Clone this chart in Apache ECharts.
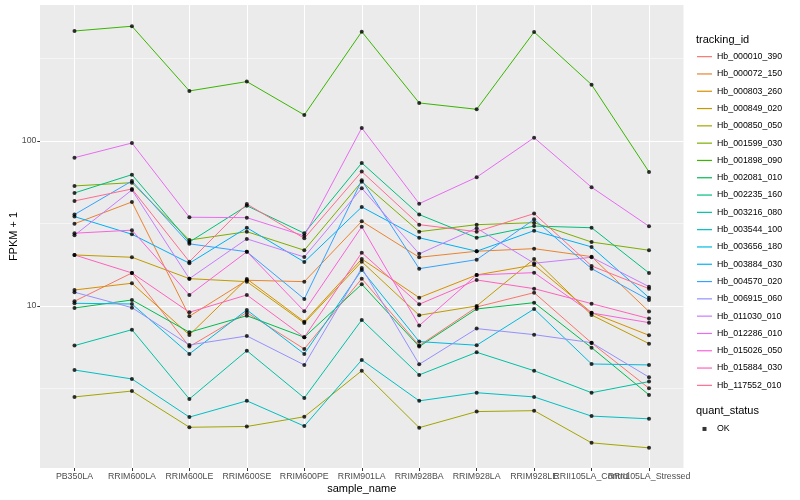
<!DOCTYPE html>
<html><head><meta charset="utf-8">
<script src="https://cdn.jsdelivr.net/npm/echarts@6/dist/echarts.min.js"></script>
<style>html,body{margin:0;padding:0;background:#fff}#c{width:800px;height:500px}</style>
</head><body><div id="c"></div>
<script>
const categories = ['PB350LA','RRIM600LA','RRIM600LE','RRIM600SE','RRIM600PE','RRIM901LA','RRIM928BA','RRIM928LA','RRIM928LE','RRII105LA_Control','RRII105LA_Stressed'];
const trackingIds = ['Hb_000010_390','Hb_000072_150','Hb_000803_260','Hb_000849_020','Hb_000850_050','Hb_001599_030','Hb_001898_090','Hb_002081_010','Hb_002235_160','Hb_003216_080','Hb_003544_100','Hb_003656_180','Hb_003884_030','Hb_004570_020','Hb_006915_060','Hb_011030_010','Hb_012286_010','Hb_015026_050','Hb_015884_030','Hb_117552_010'];
const lineColors = ['#F8766D','#EA8331','#D89000','#C09B00','#A3A500','#7CAE00','#39B600','#00BB4E','#00BF7D','#00C1A3','#00BFC4','#00BAE0','#00B0F6','#35A2FF','#9590FF','#C77CFF','#E76BF3','#FA62DB','#FF62BC','#FF6C91'];
const yMajorTicks = [10, 100];
const yMinorTicks = [3.1623, 31.623, 316.23];

const hb_000010_390 = [10.68, 15.85, 5.67, 9.11, 5.49, 14.64, 5.75, 9.86, 12.04, 5.97, 3.17];
const hb_000072_150 = [31.5, 42.7, 8.66, 14.31, 14.04, 32.6, 19.73, 21.46, 22.25, 19.9, 9.24];
const hb_000803_260 = [12.5, 13.73, 6.67, 14.58, 8.03, 19.27, 11.23, 15.41, 17.72, 9.11, 6.64];
const hb_000849_020 = [20.38, 19.73, 14.64, 14.04, 7.89, 18.55, 8.78, 10.0, 19.27, 8.82, 5.91];
const hb_000850_050 = [2.81, 3.05, 1.84, 1.86, 2.13, 4.05, 1.83, 2.29, 2.32, 1.48, 1.38];
const hb_001599_030 = [53.4, 55.9, 25.1, 28.2, 21.76, 56.7, 28.2, 31.1, 31.98, 24.4, 21.76];
const hb_001898_090 = [464, 496, 201, 229, 143.8, 459.6, 170, 155.6, 457.7, 219.4, 64.9];
const hb_002081_010 = [9.72, 10.87, 6.93, 8.73, 6.46, 13.54, 5.67, 9.59, 10.47, 5.59, 2.89];
const hb_002235_160 = [48.4, 62.5, 24.4, 40.5, 27.6, 73.6, 35.8, 25.9, 30.5, 29.8, 15.85];
const hb_003216_080 = [5.75, 7.18, 2.73, 5.36, 2.77, 8.23, 3.82, 5.24, 4.05, 2.98, 3.48];
const hb_003544_100 = [4.09, 3.61, 2.12, 2.66, 1.87, 4.71, 2.66, 2.98, 2.81, 2.15, 2.07];
const hb_003656_180 = [10.38, 10.28, 5.12, 9.46, 5.12, 16.53, 6.08, 5.78, 9.59, 4.45, 4.39];
const hb_003884_030 = [34.8, 27.2, 18.15, 29.8, 18.48, 39.8, 25.9, 21.46, 28.6, 22.8, 11.23];
const hb_004570_020 = [35.8, 57.2, 23.8, 21.3, 11.03, 57.8, 16.83, 19.08, 33.5, 16.83, 10.87];
const hb_006915_060 = [12.11, 9.77, 5.80, 6.58, 4.39, 17.0, 4.43, 7.29, 6.70, 5.99, 3.70];
const hb_011030_010 = [26.8, 50.5, 14.64, 25.5, 19.8, 51.7, 20.7, 29.6, 18.15, 19.73, 13.09];
const hb_012286_010 = [79.2, 97.2, 34.5, 34.3, 26.6, 119.9, 41.7, 60.3, 104.7, 52.4, 30.4];
const hb_015026_050 = [27.6, 28.8, 11.66, 21.3, 9.29, 30.2, 7.60, 15.41, 15.92, 9.07, 7.92];
const hb_015884_030 = [20.38, 15.85, 9.16, 11.66, 6.46, 21.04, 10.24, 14.37, 12.73, 10.33, 8.38];
const hb_117552_010 = [43.3, 51.2, 18.55, 41.5, 25.7, 65.2, 31.1, 28.2, 36.3, 17.48, 12.73];

const allValues = [hb_000010_390, hb_000072_150, hb_000803_260, hb_000849_020, hb_000850_050, hb_001599_030, hb_001898_090, hb_002081_010, hb_002235_160, hb_003216_080, hb_003544_100, hb_003656_180, hb_003884_030, hb_004570_020, hb_006915_060, hb_011030_010, hb_012286_010, hb_015026_050, hb_015884_030, hb_117552_010];

const catIdx = categories.map((c, i) => i);
const evenIdx = catIdx.filter(i => i % 2 === 0);
const oddIdx = catIdx.filter(i => i % 2 === 1);
const FONT = '"Liberation Sans", Arial, sans-serif';

const lineSeries = allValues.map((vals, k) => ({
  name: trackingIds[k],
  type: 'line',
  color: lineColors[k],
  xAxisIndex: 0, yAxisIndex: 0,
  data: vals.map((v, i) => [i, v]),
  symbol: 'none',
  lineStyle: { color: lineColors[k], width: 1 },
  emphasis: { disabled: true },
  z: 2
}));
const pointData = [];
allValues.forEach(vals => vals.forEach((v, i) => pointData.push([i, v])));
const pointSeries = {
  name: 'OK', type: 'scatter', data: pointData, symbol: 'circle', symbolSize: 4,
  xAxisIndex: 0, yAxisIndex: 0,
  itemStyle: { color: '#000000' }, emphasis: { disabled: true }, z: 5
};

const xLabelCommon = { formatter: v => categories[Math.round(v)], color: '#4D4D4D', fontSize: 8.8, margin: 4, hideOverlap: false, showMinLabel: true, showMaxLabel: true, fontFamily: FONT };

const chart = echarts.init(document.getElementById('c'), null, { renderer: 'canvas' });
chart.setOption({
  animation: false,
  textStyle: { fontFamily: FONT },
  title: [
    { text: 'tracking_id', left: 696, top: 34, padding: 0, textStyle: { fontSize: 11, fontWeight: 'normal', color: '#000', fontFamily: FONT } },
    { text: 'quant_status', left: 696, top: 405, padding: 0, textStyle: { fontSize: 11, fontWeight: 'normal', color: '#000', fontFamily: FONT } }
  ],
  grid: { left: 40, right: 116.5, top: 5, bottom: 32, show: true, backgroundColor: '#EBEBEB', borderWidth: 0, containLabel: false, outerBoundsMode: 'none' },
  xAxis: [
    {
      type: 'value', min: -0.6, max: 10.6, position: 'bottom',
      axisLine: { show: false, onZero: false },
      axisTick: { show: true, customValues: catIdx, length: 3, lineStyle: { color: '#333333', width: 1 } },
      axisLabel: Object.assign({ customValues: evenIdx }, xLabelCommon),
      splitLine: { show: true, lineStyle: { color: '#FFFFFF', width: 1.07 } },
      name: 'sample_name', nameLocation: 'middle', nameGap: 15, nameMoveOverlap: false,
      nameTextStyle: { fontSize: 11, color: '#000', fontFamily: FONT }
    },
    {
      type: 'value', min: -0.6, max: 10.6, position: 'bottom', offset: 0,
      axisLine: { show: false, onZero: false },
      axisTick: { show: false, customValues: oddIdx },
      axisLabel: Object.assign({ customValues: oddIdx }, xLabelCommon),
      splitLine: { show: false }
    }
  ],
  yAxis: [
    {
      type: 'log', logBase: 10, min: 1.042, max: 667, position: 'left',
      axisLine: { show: false, onZero: false },
      axisTick: { show: true, customValues: yMajorTicks, length: 2.7, lineStyle: { color: '#333333', width: 1 } },
      axisLabel: { customValues: yMajorTicks, color: '#4D4D4D', fontSize: 8.8, margin: 3.5, fontFamily: FONT },
      splitLine: { show: true, lineStyle: { color: '#FFFFFF', width: 1.07 } },
      name: 'FPKM + 1', nameLocation: 'middle', nameGap: 21, nameMoveOverlap: false,
      nameTextStyle: { fontSize: 11, color: '#000', fontFamily: FONT }
    },
    {
      type: 'log', logBase: 10, min: 1.042, max: 667, position: 'left', offset: 0,
      axisLine: { show: false, onZero: false },
      axisTick: { show: false, customValues: yMinorTicks },
      axisLabel: { show: false },
      splitLine: { show: true, lineStyle: { color: '#FFFFFF', width: 0.53 } }
    }
  ],
  legend: [
    {
      orient: 'vertical', left: 697, top: 48, padding: 0, itemGap: 0,
      itemWidth: 15, itemHeight: 1.2, selectedMode: false,
      textStyle: { fontSize: 8.8, color: '#000', lineHeight: 17.3, fontFamily: FONT },
      data: trackingIds.map((id, k) => ({ name: id, icon: 'rect', itemStyle: { color: lineColors[k] } }))
    },
    {
      orient: 'vertical', left: 702.5, top: 420.3, padding: 0, itemGap: 0,
      itemWidth: 4, itemHeight: 4, selectedMode: false,
      textStyle: { fontSize: 8.8, color: '#000', lineHeight: 17.3, padding: [0, 0, 0, 5.5], fontFamily: FONT },
      data: [{ name: 'OK', icon: 'rect', itemStyle: { color: '#000' } }]
    }
  ],
  series: lineSeries.concat([pointSeries])
});
</script>
</body></html>
